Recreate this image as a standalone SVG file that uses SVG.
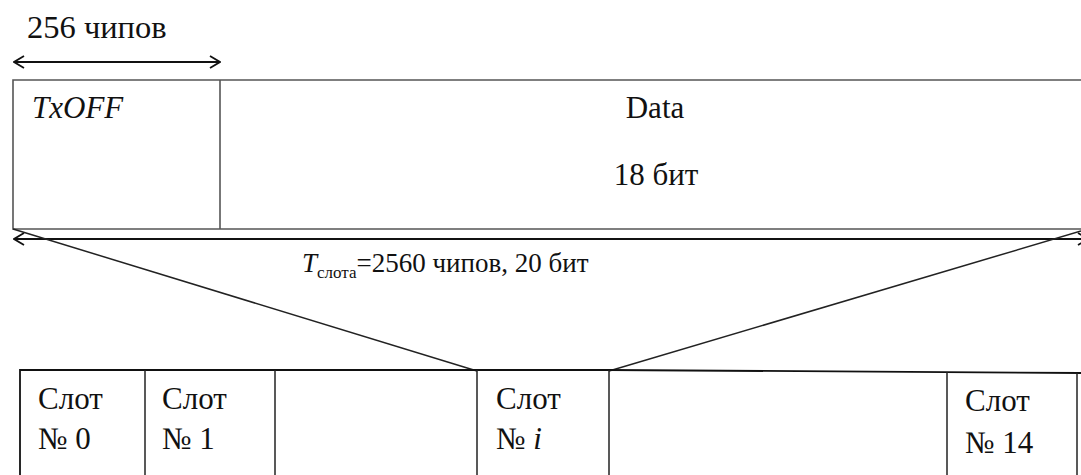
<svg xmlns="http://www.w3.org/2000/svg" width="1081" height="475" viewBox="0 0 1081 475">
  <style>
    .frame { fill: none; stroke: #555; stroke-width: 1.6; }
    .line { fill: none; stroke: #111; stroke-width: 1.8; }
    .thin { fill: none; stroke: #222; stroke-width: 1.5; }
    .t { font-family: 'Liberation Serif', Tinos, 'Nimbus Roman', FreeSerif, Times, 'DejaVu Serif', 'Noto Serif', serif; font-size: 31px; fill: #111; }
    .it { font-style: italic; }
    .big { font-size: 32.5px; }
    .mid { font-size: 27px; }
    .sub { font-size: 17px; }
  </style>
  <defs>
    <marker id="chev" viewBox="0 0 12 14" refX="11" refY="7" markerWidth="12" markerHeight="14" markerUnits="userSpaceOnUse" orient="auto-start-reverse">
      <path d="M1,1 L11,7 L1,13" fill="none" stroke="#111" stroke-width="1.8"/>
    </marker>
  </defs>

  <!-- width of the TxOFF field -->
  <g id="txoff-span">
    <text class="t big" x="27" y="38">256 чипов</text>
    <line class="line" x1="14" y1="62" x2="220" y2="62" marker-start="url(#chev)" marker-end="url(#chev)"/>
  </g>

  <!-- slot contents: TxOFF + Data -->
  <g id="slot-frame">
    <path class="frame" d="M1081,80 H13 V229 H1081"/>
    <line class="frame" x1="220" y1="80" x2="220" y2="229"/>
  </g>
  <g id="txoff">
    <text class="t it" x="32" y="118">TxOFF</text>
  </g>
  <g id="data">
    <text class="t" x="655" y="118" text-anchor="middle">Data</text>
    <text class="t" x="656" y="185" text-anchor="middle">18 бит</text>
  </g>

  <!-- slot duration -->
  <g id="slot-span">
    <line class="line" x1="14" y1="239" x2="1088" y2="239" marker-start="url(#chev)" marker-end="url(#chev)"/>
    <text class="t mid" x="302" y="272"><tspan class="it">T</tspan><tspan class="sub" dy="6">слота</tspan><tspan dy="-6">=2560 чипов, 20 бит</tspan></text>
  </g>

  <!-- expansion lines -->
  <g id="connectors">
    <line class="thin" x1="13" y1="229" x2="477" y2="371"/>
    <line class="thin" x1="1081" y1="231" x2="609" y2="371"/>
  </g>

  <!-- frame of 15 slots -->
  <g id="frame-row">
    <path class="line" d="M20,475 V370 H609 L1081,373"/>
  </g>
  <g id="slot-0">
    <text class="t" x="38" y="409">Слот</text>
    <text class="t" x="38" y="449">№ 0</text>
  </g>
  <g id="slot-1">
    <line class="thin" x1="145" y1="370" x2="145" y2="475"/>
    <text class="t" x="162" y="409">Слот</text>
    <text class="t" x="162" y="449">№ 1</text>
  </g>
  <g id="slot-gap">
    <line class="thin" x1="275" y1="370" x2="275" y2="475"/>
  </g>
  <g id="slot-i">
    <line class="thin" x1="477" y1="370" x2="477" y2="475"/>
    <line class="thin" x1="609" y1="370" x2="609" y2="475"/>
    <text class="t" x="496" y="409">Слот</text>
    <text class="t" x="496" y="449">№ <tspan class="it">i</tspan></text>
  </g>
  <g id="slot-14">
    <line class="thin" x1="947" y1="372" x2="947" y2="475"/>
    <line class="thin" x1="1077" y1="373" x2="1077" y2="475"/>
    <text class="t" x="965" y="411">Слот</text>
    <text class="t" x="965" y="453">№ 14</text>
  </g>
</svg>
